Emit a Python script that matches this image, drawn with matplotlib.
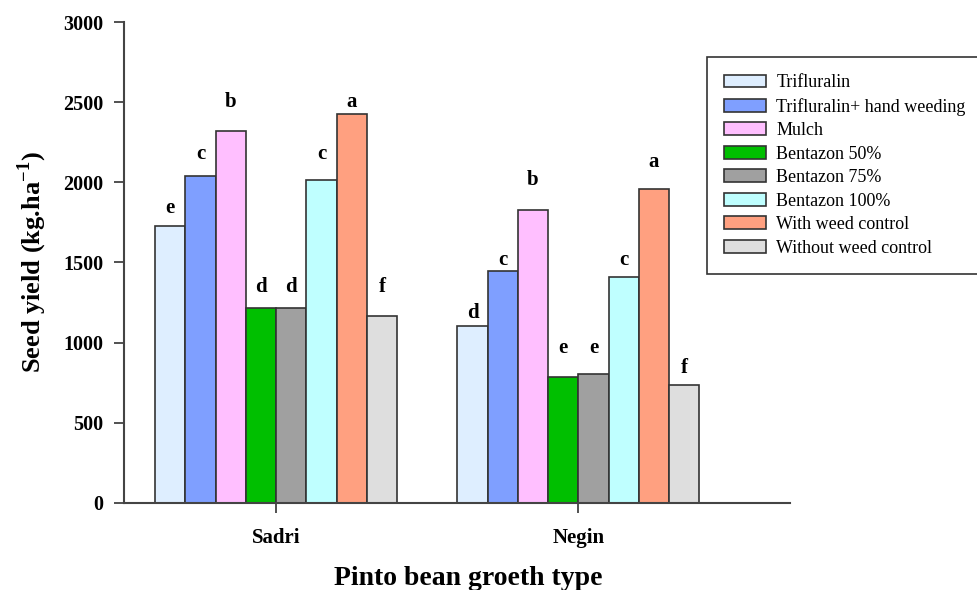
import numpy as np
import matplotlib.pyplot as plt
from matplotlib.patches import Patch

plt.rcParams['font.family'] = ['Liberation Serif', 'DejaVu Serif']

groups = ['Sadri', 'Negin']
treatments = ['Trifluralin', 'Trifluralin+ hand weeding', 'Mulch', 'Bentazon 50%',
              'Bentazon 75%', 'Bentazon 100%', 'With weed control', 'Without weed control']
colors = ['#DEEEFF', '#7F9FFF', '#FFBFFF', '#00BF00', '#A0A0A0', '#BFFFFF', '#FFA080', '#DEDEDE']

# seed yield per treatment for Sadri, Negin
sadri = [1728, 2040, 2320, 1216, 1216, 2015, 2427, 1166]
negin = [1104, 1449, 1826, 784, 805, 1412, 1959, 734]
# letters and the height at which they sit
sadri_letters = ['e', 'c', 'b', 'd', 'd', 'c', 'a', 'f']
negin_letters = ['d', 'c', 'b', 'e', 'e', 'c', 'a', 'f']
sadri_letter_y = [1811, 2144, 2472, 1316, 1316, 2144, 2468, 1316]
negin_letter_y = [1152, 1485, 1984, 938, 934, 1485, 2094, 813]

fig = plt.figure(figsize=(9.77, 5.9), dpi=100)
ax = fig.add_axes([0.1269, 0.1475, 0.6817, 0.8152])

x = np.arange(len(groups))
w = 0.1
vals = np.array([sadri, negin]).T
lets = np.array([sadri_letters, negin_letters]).T
lety = np.array([sadri_letter_y, negin_letter_y]).T
for i in range(len(treatments)):
    xs = x + (i - 3.5) * w
    ax.bar(xs, vals[i], width=w, color=colors[i], edgecolor='#333333', linewidth=1.2,
           label=treatments[i])
    for j in range(len(groups)):
        ax.text(xs[j], lety[i][j], lets[i][j], ha='center', va='baseline',
                fontsize=15, fontweight='bold')

ax.set_xlim(-0.503, 1.70)
ax.set_ylim(0, 3000)
ax.set_yticks(np.arange(0, 3001, 500))
ax.set_xticks(x)
ax.set_xticklabels(groups, fontsize=15, fontweight='bold')
for t in ax.get_yticklabels():
    t.set_fontsize(14.5)
    t.set_fontweight('bold')
ax.tick_params(axis='both', direction='out', length=7, width=1.2, color='#333333')
ax.tick_params(axis='x', pad=11)
ax.tick_params(axis='y', pad=8)
for s in ['top', 'right']:
    ax.spines[s].set_visible(False)
for s in ['left', 'bottom']:
    ax.spines[s].set_linewidth(1.5)
    ax.spines[s].set_color('#444444')

ax.set_ylabel('Seed yield (kg.ha$^{\\mathregular{-1}}$)', fontsize=19, fontweight='bold')
ax.yaxis.set_label_coords(-0.112, 0.5)
ax.set_xlabel('Pinto bean groeth type', fontsize=20, fontweight='bold')
ax.xaxis.set_label_coords(0.5165, -0.131)

handles = [Patch(facecolor=colors[i], edgecolor='#333333', linewidth=1.2) for i in range(len(treatments))]
leg = fig.legend(handles, treatments, loc='upper left', bbox_to_anchor=(0.7236, 0.9034),
                 fontsize=13, frameon=True, fancybox=False, edgecolor='#333333',
                 framealpha=1, handlelength=2.3, handleheight=0.7, labelspacing=0.36,
                 borderpad=0.95, handletextpad=0.6, borderaxespad=0)
leg.get_frame().set_linewidth(1.2)

fig.savefig('out.png', dpi=100)
